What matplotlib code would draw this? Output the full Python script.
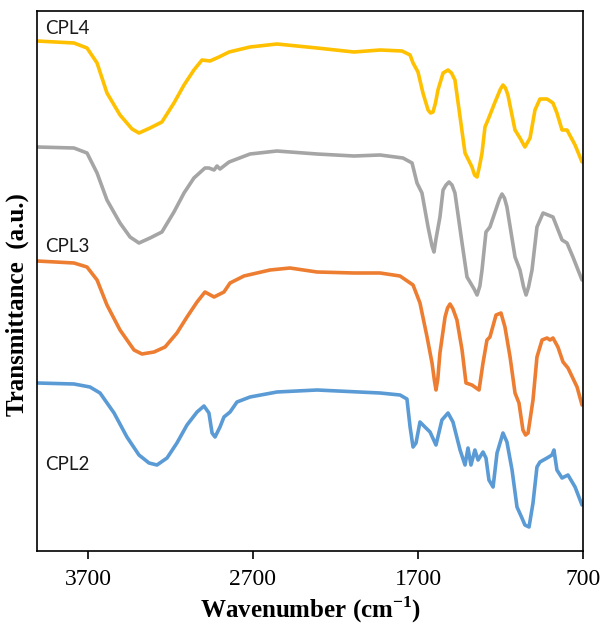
import matplotlib
matplotlib.use("Agg")
import matplotlib.pyplot as plt

# ---- data (wavenumber in cm^-1, transmittance in arbitrary units, stacked) ----
cpl4_wn = [4009, 3785, 3706, 3645, 3585, 3506, 3433, 3391, 3324, 3252, 3179, 3118, 3058, 3009,
           2961, 2906, 2845, 2718, 2555, 2312, 2200, 2088, 1930, 1797, 1748, 1730, 1700, 1670,
           1639, 1624, 1609, 1594, 1579, 1548, 1518, 1497, 1476, 1445, 1415, 1373, 1357, 1342, 1327,
           1312, 1294, 1276, 1233, 1200, 1185, 1170, 1155, 1112, 1082, 1052, 1021, 991, 961, 918,
           882, 858, 827, 797, 748, 706]
cpl4_t = [510, 508, 503, 488, 458, 436, 422, 418, 423, 429, 448, 466, 481, 491,
          490, 494, 499, 504, 507, 503, 501, 499, 501, 500, 496, 488, 479, 458,
          441, 438, 439, 448, 461, 478, 481, 478, 471, 434, 398, 384, 376, 374, 385,
          398, 424, 431, 449, 462, 466, 463, 456, 421, 413, 404, 413, 441, 452, 452,
          448, 438, 421, 421, 406, 389]

gray_wn = [4009, 3785, 3706, 3645, 3585, 3506, 3445, 3391, 3324, 3252, 3179, 3118, 3058, 2991,
           2967, 2936, 2918, 2900, 2845, 2718, 2555, 2312, 2088, 1930, 1791, 1736, 1706, 1676,
           1639, 1615, 1603, 1591, 1567, 1548, 1530, 1512, 1494, 1476, 1433, 1403, 1360, 1342, 1325,
           1312, 1288, 1264, 1233, 1206, 1191, 1176, 1161, 1112, 1082, 1060, 1045, 1030, 1009, 979,
           942, 912, 882, 827, 797, 761, 706]
gray_t = [404, 403, 398, 378, 351, 328, 314, 308, 313, 319, 339, 358, 373, 383,
          383, 381, 385, 382, 389, 397, 400, 397, 395, 396, 393, 388, 368, 358,
          324, 305, 299, 312, 334, 361, 366, 369, 366, 358, 308, 274, 262, 256, 265,
          281, 319, 324, 339, 352, 357, 353, 344, 294, 281, 264, 256, 264, 281, 324,
          338, 336, 334, 311, 308, 294, 271]

cpl3_wn = [4009, 3785, 3706, 3645, 3585, 3506, 3421, 3373, 3300, 3233, 3161, 3100, 3039, 2991,
           2936, 2876, 2839, 2755, 2597, 2476, 2312, 2088, 1930, 1809, 1730, 1688, 1645, 1615,
           1600, 1591, 1580, 1567, 1536, 1521, 1506, 1488, 1464, 1433, 1409, 1373, 1330, 1306,
           1282, 1264, 1227, 1197, 1173, 1142, 1112, 1088, 1064, 1048, 1033, 1003, 979, 948, 918,
           900, 882, 852, 821, 791, 736, 706]
cpl3_t = [290, 288, 284, 271, 246, 221, 201, 197, 199, 204, 218, 234, 249, 259,
          254, 259, 268, 275, 281, 283, 279, 278, 278, 275, 266, 248, 214, 188,
          170, 161, 172, 198, 234, 243, 247, 242, 231, 201, 168, 166, 161, 188,
          211, 214, 236, 238, 224, 194, 158, 148, 121, 116, 118, 151, 194, 211, 213,
          211, 213, 204, 189, 183, 164, 146]

cpl2_wn = [4009, 3785, 3688, 3627, 3542, 3464, 3391, 3330, 3282, 3221, 3161, 3100, 3039, 2997,
           2967, 2948, 2930, 2900, 2876, 2839, 2797, 2718, 2555, 2312, 1930, 1809, 1767, 1748,
           1730, 1712, 1688, 1658, 1627, 1591, 1555, 1518, 1488, 1445, 1415, 1397, 1379, 1355,
           1336, 1306, 1288, 1270, 1245, 1221, 1185, 1161, 1130, 1100, 1070, 1052, 1027, 1003,
           979, 961, 918, 888, 876, 858, 827, 791, 748, 706]
cpl2_t = [168, 167, 164, 158, 138, 114, 96, 88, 86, 93, 108, 126, 139, 145,
          138, 118, 114, 124, 134, 139, 149, 154, 159, 161, 158, 156, 152, 124,
          104, 108, 129, 124, 119, 106, 131, 138, 129, 101, 86, 103, 86, 101,
          91, 99, 93, 71, 64, 98, 118, 109, 81, 44, 33, 26, 24, 48,
          84, 89, 93, 96, 101, 81, 73, 76, 64, 46]

series_names = ["CPL4", "", "CPL3", "CPL2"]
series_colors = ["#FFC000", "#A5A5A5", "#ED7D31", "#5B9BD5"]
x_ticks = [3700, 2700, 1700, 700]

# ---- figure ----
plt.rcParams['mathtext.fontset'] = 'custom'
plt.rcParams['mathtext.rm'] = 'Liberation Serif'
plt.rcParams['mathtext.bf'] = 'Liberation Serif:bold'

fig = plt.figure(figsize=(6.04, 6.28), dpi=100)
ax = fig.add_axes([37 / 604, 1 - 551 / 628, (583 - 37) / 604, (551 - 11) / 628])

for wn, t, c in [(cpl4_wn, cpl4_t, series_colors[0]), (gray_wn, gray_t, series_colors[1]),
                 (cpl3_wn, cpl3_t, series_colors[2]), (cpl2_wn, cpl2_t, series_colors[3])]:
    ax.plot(wn, t, color=c, lw=2.6, solid_joinstyle='round', solid_capstyle='round')

ax.set_xlim(4009, 700)
ax.set_ylim(0, 540)
ax.set_xticks(x_ticks)
ax.set_xticklabels([str(v) for v in x_ticks], fontfamily='Liberation Serif', fontsize=17)
ax.tick_params(axis='x', direction='out', length=6, width=1.2, pad=7, colors='black')
ax.set_yticks([])
for s in ax.spines.values():
    s.set_linewidth(1.2)
    s.set_color('black')

# series labels
lab_font = dict(fontfamily='Lato', fontsize=13.5, color='#1a1a1a', va='center', ha='left')
ax.text(3960, 551 - 28.5, "CPL4", **lab_font)
ax.text(3960, 551 - 246.5, "CPL3", **lab_font)
ax.text(3960, 551 - 465, "CPL2", **lab_font)

fig.text(311 / 604, 1 - 610 / 628, r'Wavenumber (cm$^{\mathbf{-1}}$)', fontfamily='Liberation Serif',
         fontweight='bold', fontsize=18, ha='center', va='center')
fig.text(17 / 604, 1 - 305 / 628, 'Transmittance  (a.u.)', fontfamily='Liberation Serif',
         fontweight='bold', fontsize=18, ha='center', va='center', rotation=90)

fig.savefig("out.png", dpi=100)
